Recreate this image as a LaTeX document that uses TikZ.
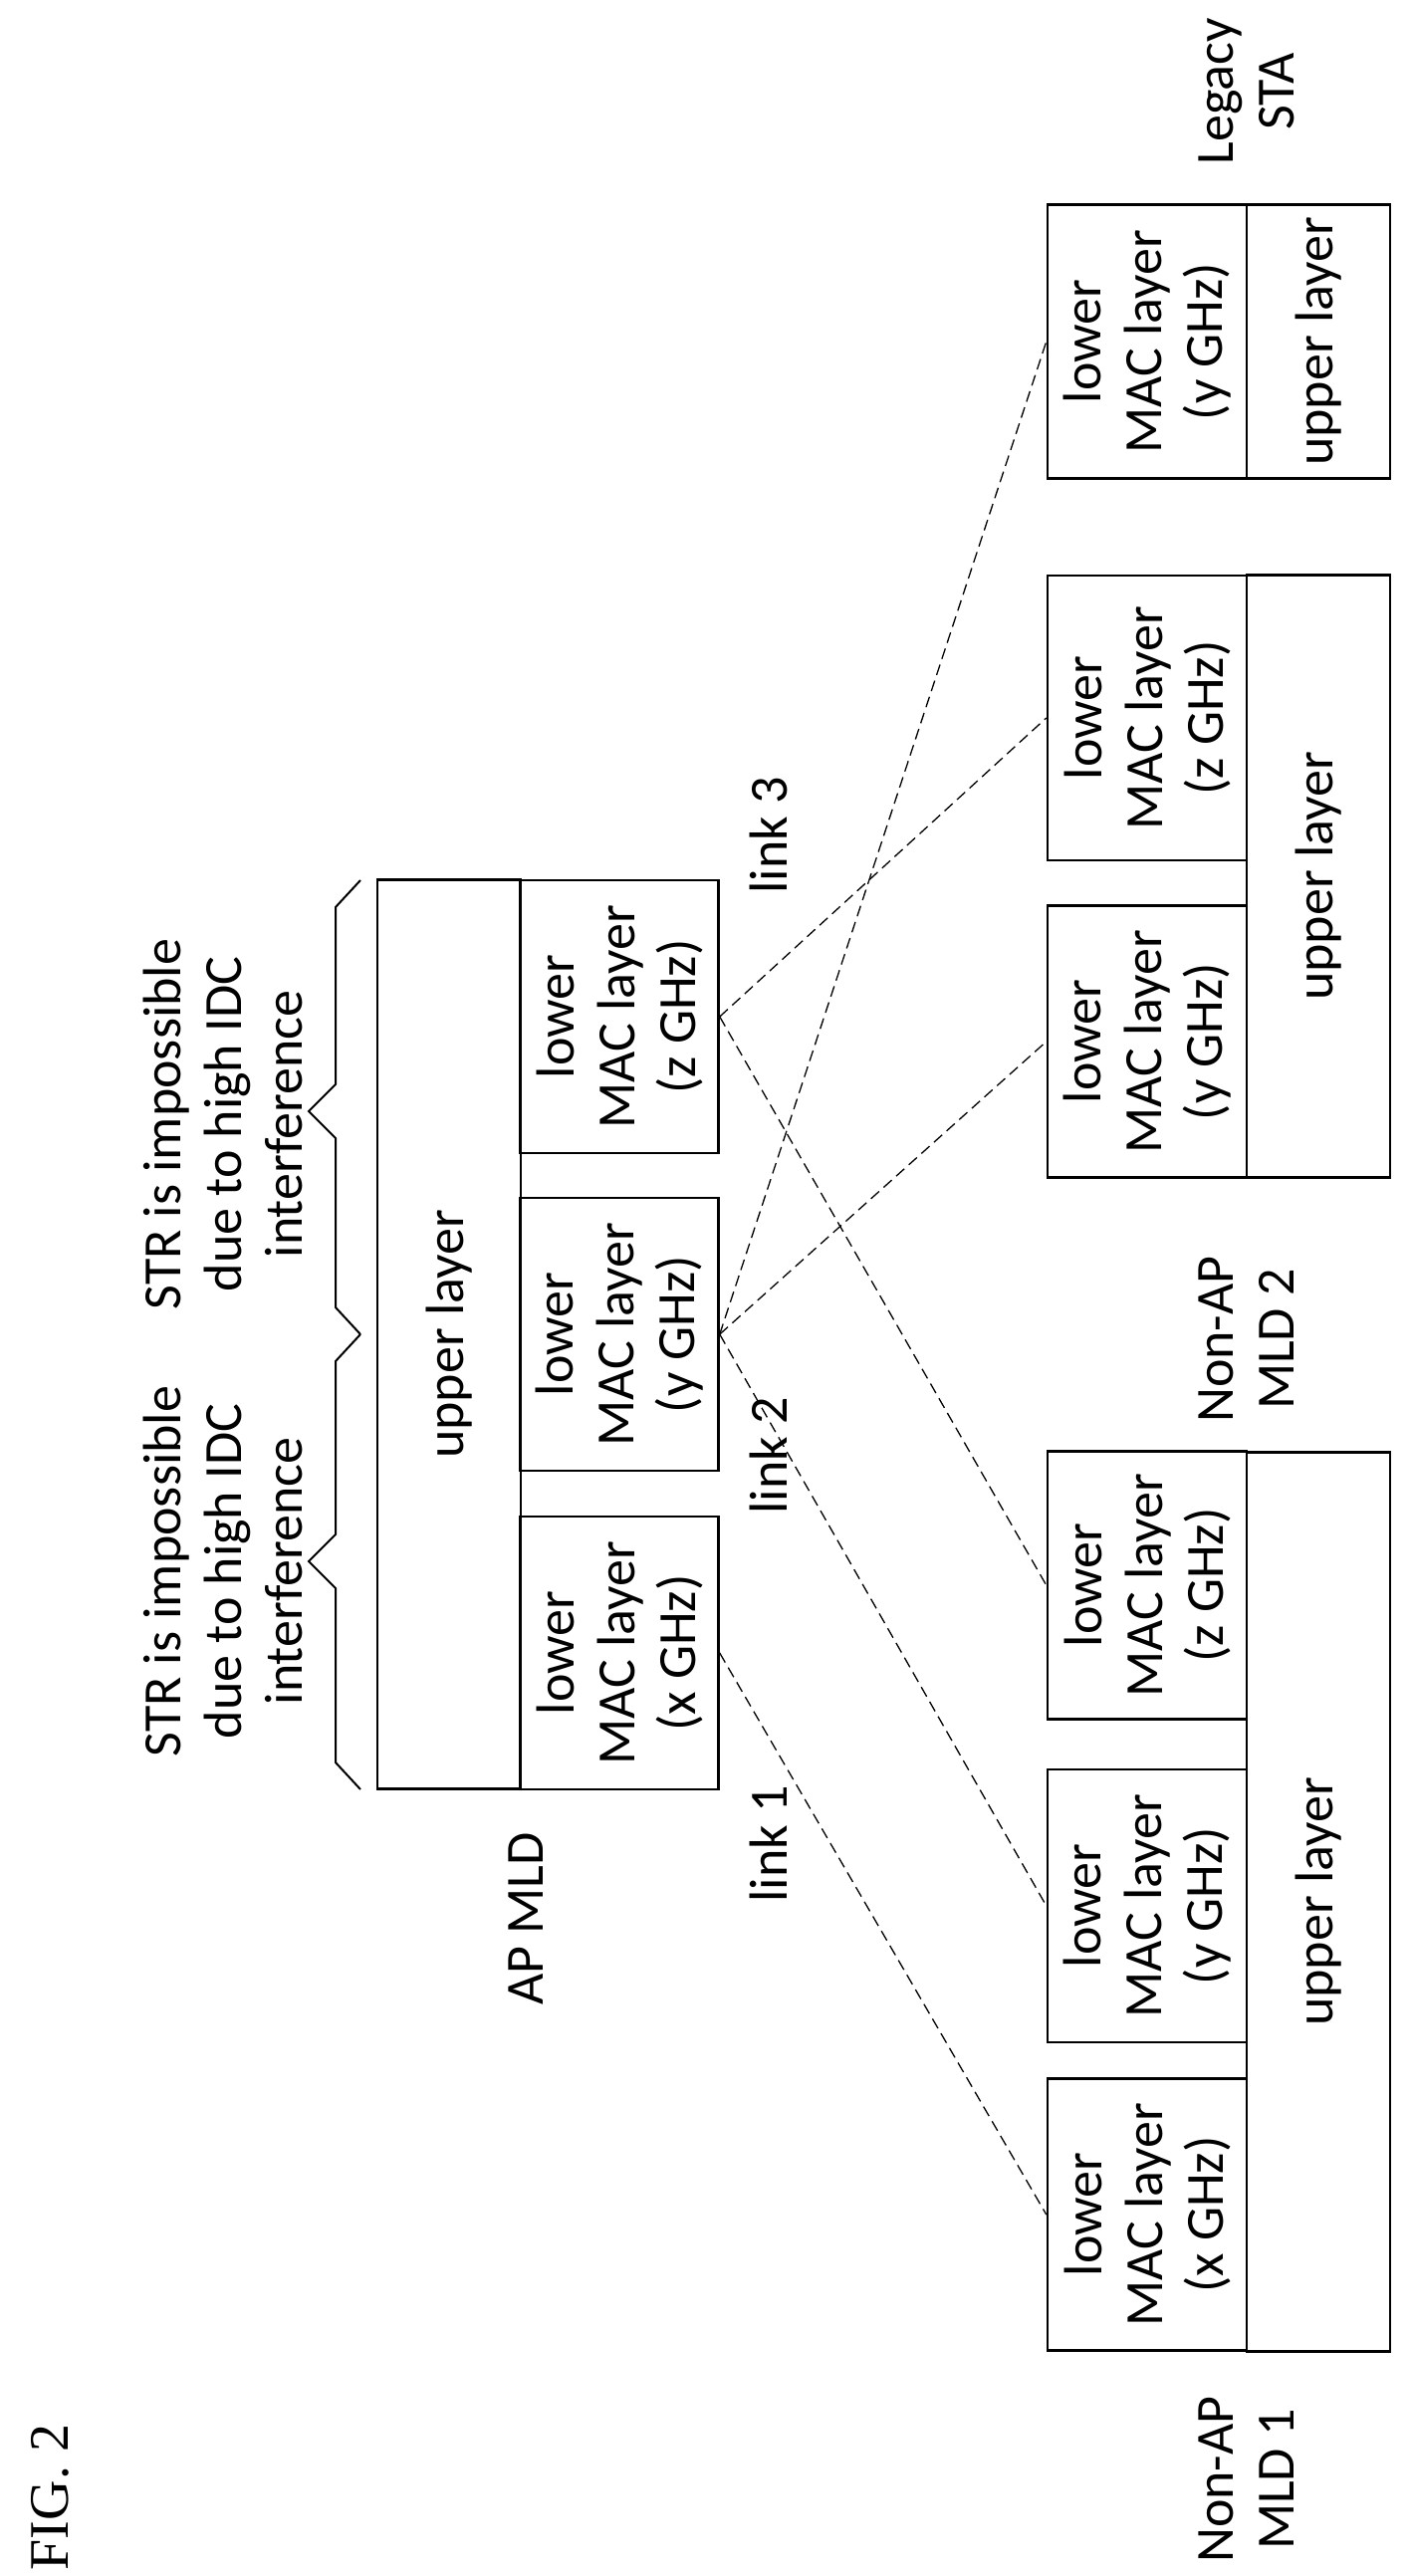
\documentclass[tikz,border=0pt]{standalone}
\usepackage{fontspec}
\setmainfont{Carlito}
\newfontfamily\figfont{Liberation Serif}
\begin{document}
\begin{tikzpicture}[x=1pt,y=-1pt,
  box/.style={draw,line width=2.5pt,rotate=90,inner sep=0pt,align=center,font=\fontsize{54}{61}\selectfont},
  lbl/.style={rotate=90,inner sep=0pt,align=center,font=\fontsize{54}{61}\selectfont},
  link/.style={dashed,line width=1.3pt,dash pattern=on 11pt off 6pt},
  brace/.style={line width=2pt}]
\useasboundingbox (0,0) rectangle (1417,2587);
% AP MLD
\node[box,minimum width=913pt,minimum height=144pt] (apup) at (451,1340) {upper layer};
\node[box,minimum width=274pt,minimum height=199pt] (apz) at (622,1021) {lower\\MAC layer\\(z GHz)};
\node[box,minimum width=274pt,minimum height=199pt] (apy) at (622,1340) {lower\\MAC layer\\(y GHz)};
\node[box,minimum width=274pt,minimum height=199pt] (apx) at (622,1660) {lower\\MAC layer\\(x GHz)};
% Non-AP MLD 1
\node[box,minimum width=903pt,minimum height=144pt] (n1up) at (1324,1910) {upper layer};
\node[box,minimum width=269pt,minimum height=200pt] (n1z) at (1152,1592) {lower\\MAC layer\\(z GHz)};
\node[box,minimum width=274pt,minimum height=200pt] (n1y) at (1152,1914) {lower\\MAC layer\\(y GHz)};
\node[box,minimum width=273pt,minimum height=200pt] (n1x) at (1152,2224) {lower\\MAC layer\\(x GHz)};
% Non-AP MLD 2
\node[box,minimum width=605pt,minimum height=144pt] (n2up) at (1324,880) {upper layer};
\node[box,minimum width=286pt,minimum height=200pt] (n2z) at (1152,721) {lower\\MAC layer\\(z GHz)};
\node[box,minimum width=273pt,minimum height=200pt] (n2y) at (1152,1046) {lower\\MAC layer\\(y GHz)};
% Legacy STA
\node[box,minimum width=275pt,minimum height=144pt] (lup) at (1324,343) {upper layer};
\node[box,minimum width=275pt,minimum height=200pt] (ly) at (1152,343) {lower\\MAC layer\\(y GHz)};
% labels
\node[lbl] (apl) at (528,1927) {AP MLD};
\node[lbl] (l1) at (772,1852) {link 1};
\node[lbl] (l2) at (772,1462) {link 2};
\node[lbl] (l3) at (772,839) {link 3};
\node[lbl] (n1l) at (1252,2490) {Non-AP\\MLD 1};
\node[lbl] (n2l) at (1252,1345) {Non-AP\\MLD 2};
\node[lbl] (lsl) at (1252,92) {Legacy\\STA};
\node[lbl] (s1) at (224,1578) {STR is impossible\\due to high IDC\\interference};
\node[lbl] (s2) at (224,1129) {STR is impossible\\due to high IDC\\interference};
\node[rotate=90,inner sep=0pt,font=\figfont\fontsize{56}{60}\selectfont] (fig) at (50,2508) {FIG. 2};
% braces
\draw[brace] (362,1797) -- (337,1770) -- (337,1595) -- (310,1568) -- (337,1541) -- (337,1367) -- (362,1340);
\draw[brace] (362,1340) -- (337,1313) -- (337,1143) -- (310,1116) -- (337,1089) -- (337,911) -- (362,884);
% links
\draw[link] (apx.south) -- (n1x.north);
\draw[link] (apy.south) -- (n1y.north);
\draw[link] (apy.south) -- (n2y.north);
\draw[link] (apy.south) -- (ly.north);
\draw[link] (apz.south) -- (n1z.north);
\draw[link] (apz.south) -- (n2z.north);
\end{tikzpicture}
\end{document}
